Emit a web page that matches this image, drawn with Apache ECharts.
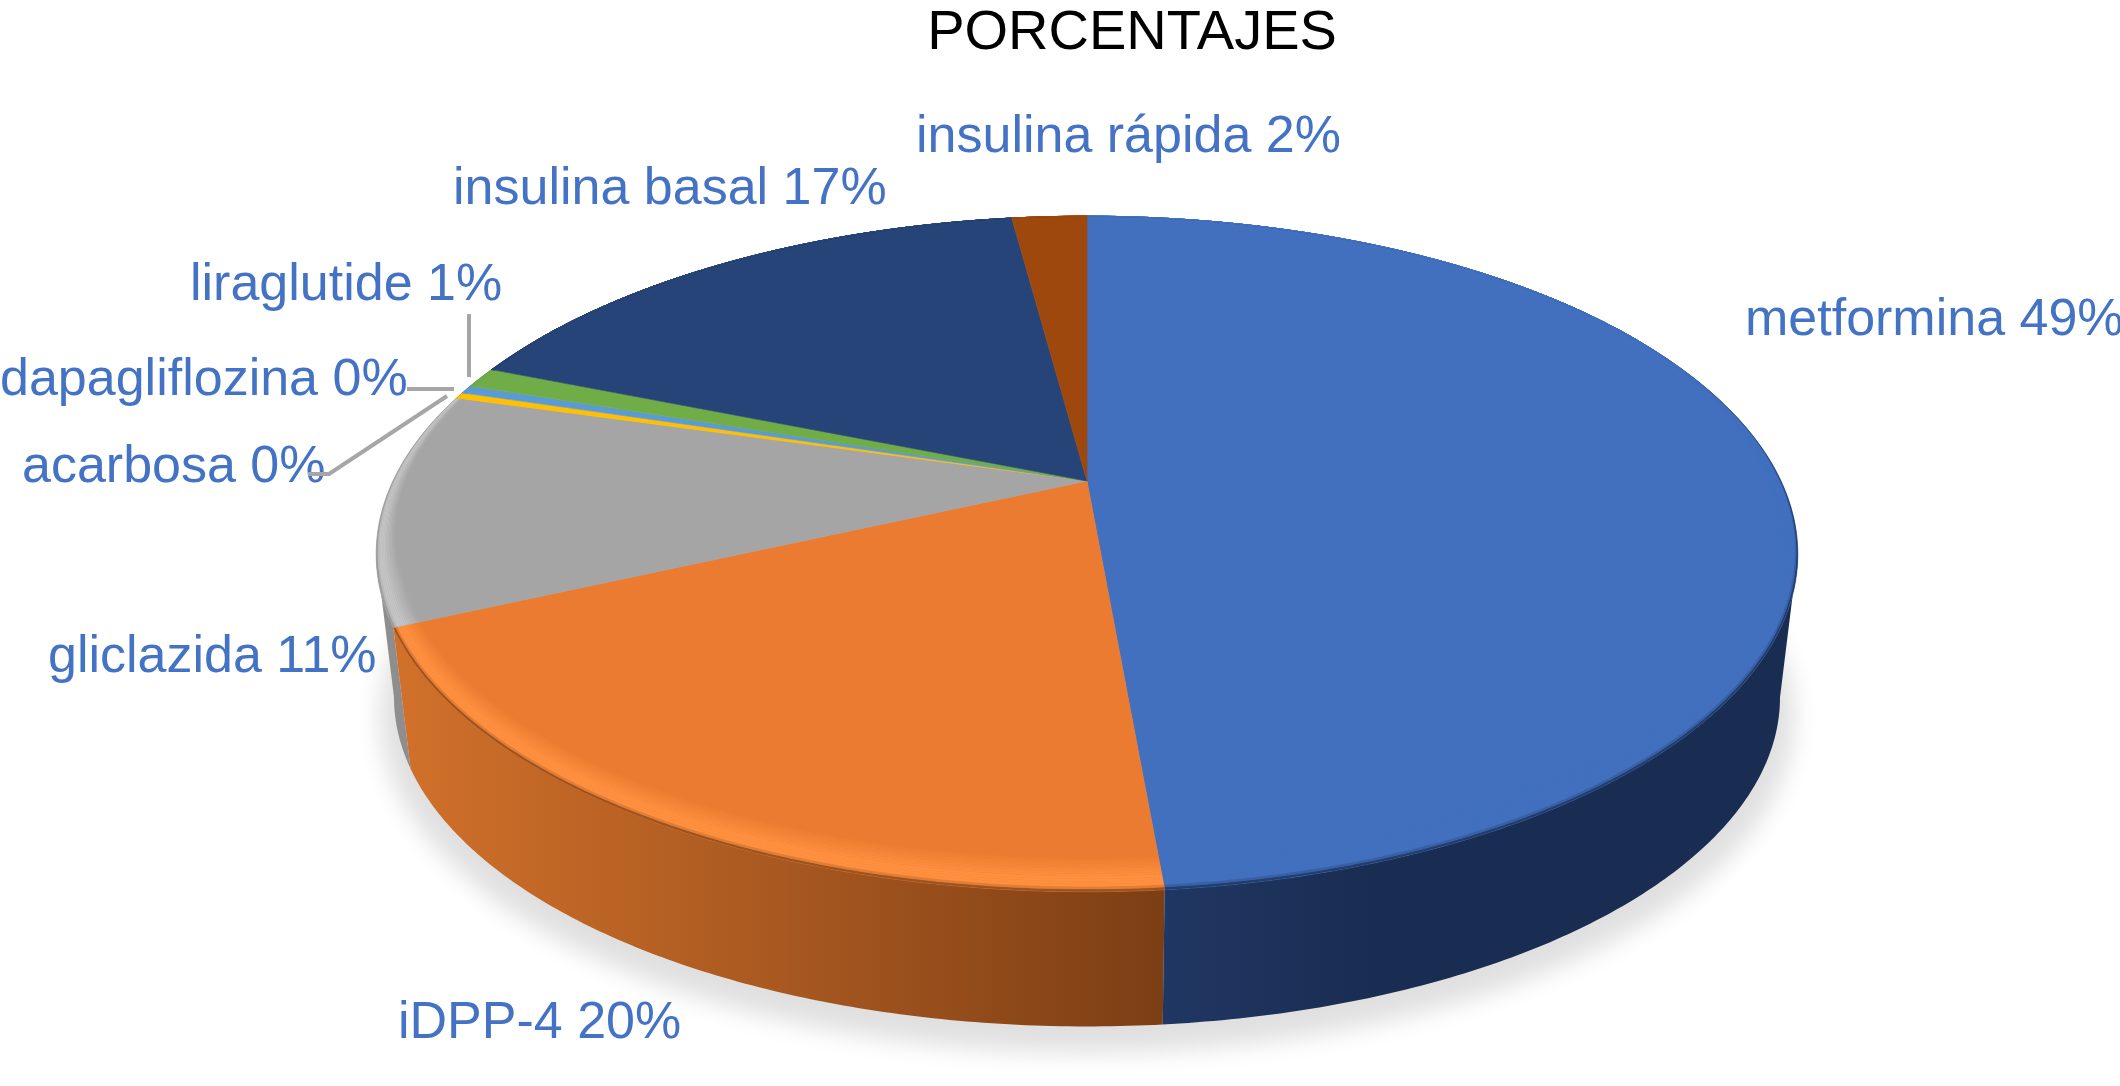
<!DOCTYPE html>
<html>
<head>
<meta charset="utf-8">
<style>html,body{margin:0;padding:0;background:#fff}#c{width:2120px;height:1086px}</style>
<script src="https://cdn.jsdelivr.net/npm/echarts@6/dist/echarts.min.js"></script>
</head>
<body>
<div id="c"></div>
<script>
// --- data ---
const chartTitle = 'PORCENTAJES';
const categories = ['metformina','iDPP-4','gliclazida','acarbosa','dapagliflozina','liraglutide','insulina basal','insulina rápida'];
const shares = [48.6,19.6,11.2,0.3,0.4,1.0,16.8,2.1];

// --- styles ---
const topColors = ['#4270BF','#EB7B30','#A5A5A5','#FFC000','#5B9BD5','#70AD47','#264478','#9E480E'];
const rimColors = ['#4270BF','#FF9040','#C4C4C4','#FFC000','#5B9BD5','#70AD47','#264478','#9E480E'];
const sideColors = [
  [[0,'#203763'],[0.35,'#192C51'],[1,'#192C51']],
  [[0,'#D0702A'],[0.5,'#A85820'],[1,'#7C3E14']],
  [[0,'#8E8E8E'],[1,'#8E8E8E']],
  [[0,'#997300'],[1,'#997300']],
  [[0,'#2E75B6'],[1,'#2E75B6']],
  [[0,'#43682B'],[1,'#43682B']],
  [[0,'#152540'],[1,'#152540']],
  [[0,'#5E2B08'],[1,'#5E2B08']]
];
const sideGradientSpan = [[1165,1800],[405,1165],[376,420],[376,420],[376,420],[376,420],[376,420],[376,420]];
const labelColor = '#4472C4';
const labelFont = 'Liberation Sans';
const labelSize = 52;

// --- layout ---
const geo = {x0:1087, y0:481, A:694, B:322, k:0.216, depth:145, lowerScale:0.975};
const labelPlace = [[1745,321],[398,1024],[48,658],[22,468],[0,381],[190,286],[453,190],[916,138]];
const leaderLines = {
  3:[[308,474],[329,474],[447,396]],
  4:[[407,389],[454,389]],
  5:[[469,314],[469,377]]
};

const total = shares.reduce((a,b)=>a+b,0);
const starts = shares.map((_,i)=>shares.slice(0,i).reduce((a,b)=>a+b,0));
const rad = v => v/total*2*Math.PI;
const frontStart = Math.acos(-geo.k), frontEnd = 2*Math.PI-frontStart;

function P(t, r=1){
  const u=Math.sin(t)*r, v=-Math.cos(t)*r, w=1-geo.k*v;
  return [geo.x0+geo.A*u/w, geo.y0+geo.B*v/w];
}
function lower(t, extra=0, s=geo.lowerScale){
  const p=P(t);
  return [geo.x0+(p[0]-geo.x0)*s, geo.y0+geo.depth+extra+(p[1]-geo.y0)*s];
}
function arc(a,b,fn){
  const n=Math.max(2,Math.ceil((b-a)/0.01)), out=[];
  for(let i=0;i<=n;i++) out.push(fn(a+(b-a)*i/n));
  return out;
}
function hex(c){return [1,3,5].map(i=>parseInt(c.substr(i,2),16));}
function mix(a,b,t){
  const x=hex(a),y=hex(b);
  return 'rgb('+x.map((v,i)=>Math.round(v+(y[i]-v)*t)).join(',')+')';
}
const fade = t => Math.max(0,Math.min(1,(-Math.cos(t)+0.5)/0.8));
const inset = t => 0.03*Math.sin(t)*Math.sin(t)+0.07*Math.cos(t)*Math.cos(t);

function renderShadow(params){
  if(params.dataIndex!==0) return null;
  const off=3000;
  return {type:'polygon', silent:true,
    shape:{points:arc(0,2*Math.PI,t=>{const p=lower(t,18,0.995);return [p[0]-off,p[1]];})},
    style:{fill:'#E2E2E2',shadowBlur:24,shadowColor:'#E0E0E0',shadowOffsetX:off}};
}
function renderSide(params,api){
  const i=params.dataIndex;
  const a=Math.max(rad(api.value(1)),frontStart), b=Math.min(rad(api.value(1))+rad(api.value(0)),frontEnd);
  if(b<=a) return null;
  const span=sideGradientSpan[i];
  const fill={type:'linear',x:span[0],y:0,x2:span[1],y2:0,global:true,
    colorStops:sideColors[i].map(s=>({offset:s[0],color:s[1]}))};
  return {type:'polygon',z2:20-i,silent:true,
    shape:{points:arc(a,b,t=>P(t)).concat(arc(a,b,t=>lower(t)).reverse())},
    style:{fill}};
}
function renderTop(params,api){
  const i=params.dataIndex, a=rad(api.value(1)), b=a+rad(api.value(0));
  const base=topColors[i], hl=rimColors[i], dark=sideColors[i][sideColors[i].length-1][1];
  const children=[{type:'polygon',shape:{points:[[geo.x0,geo.y0]].concat(arc(a,b,t=>P(t)))},
    style:{fill:base,stroke:base,lineWidth:0.6}}];
  const N=14;
  for(let j=0;j<N;j++){
    const f0=j/N, f1=(j+1)/N, fm=(f0+f1)/2;
    let col;
    if(fm<0.14) col=mix(dark,hl,fm/0.14);
    else if(fm<0.38) col=hl;
    else col=mix(hl,base,(fm-0.38)/0.62);
    const bandA=arc(a,b,t=>P(t,1-inset(t)*fade(t)*f0));
    const bandB=arc(a,b,t=>P(t,1-inset(t)*fade(t)*f1));
    children.push({type:'polygon',shape:{points:bandA.concat(bandB.reverse())},
      style:{fill:col,stroke:col,lineWidth:0.3}});
  }
  return {type:'group',silent:true,children};
}
function renderLabel(params,api){
  const i=params.dataIndex;
  const text=categories[i]+' '+Math.round(api.value(0))+'%';
  const children=[{type:'text',x:labelPlace[i][0],y:labelPlace[i][1],
    style:{text,fill:labelColor,font:labelSize+'px "'+labelFont+'"',align:'left',verticalAlign:'middle'}}];
  if(leaderLines[i]) children.push({type:'polyline',shape:{points:leaderLines[i]},
    style:{fill:null,stroke:'#A6A6A6',lineWidth:4}});
  return {type:'group',silent:true,children};
}

const seriesData = shares.map((v,i)=>[v,starts[i]]);
const mk=(fn,z)=>({type:'custom',coordinateSystem:'none',renderItem:fn,data:seriesData,z,clip:false,animation:false,silent:true,
  dimensions:['share','start'],encode:{value:0}});

const chart=echarts.init(document.getElementById('c'),null,{renderer:'canvas',width:2120,height:1086});
chart.setOption({
  animation:false,
  backgroundColor:'#fff',
  title:{text:chartTitle,left:1127,top:1,textAlign:'center',
    textStyle:{fontFamily:labelFont,fontSize:56,fontWeight:'normal',color:'#000'}},
  tooltip:{show:false},
  series:[mk(renderShadow,1),mk(renderSide,2),mk(renderTop,3),mk(renderLabel,4)]
});
</script>
</body>
</html>
